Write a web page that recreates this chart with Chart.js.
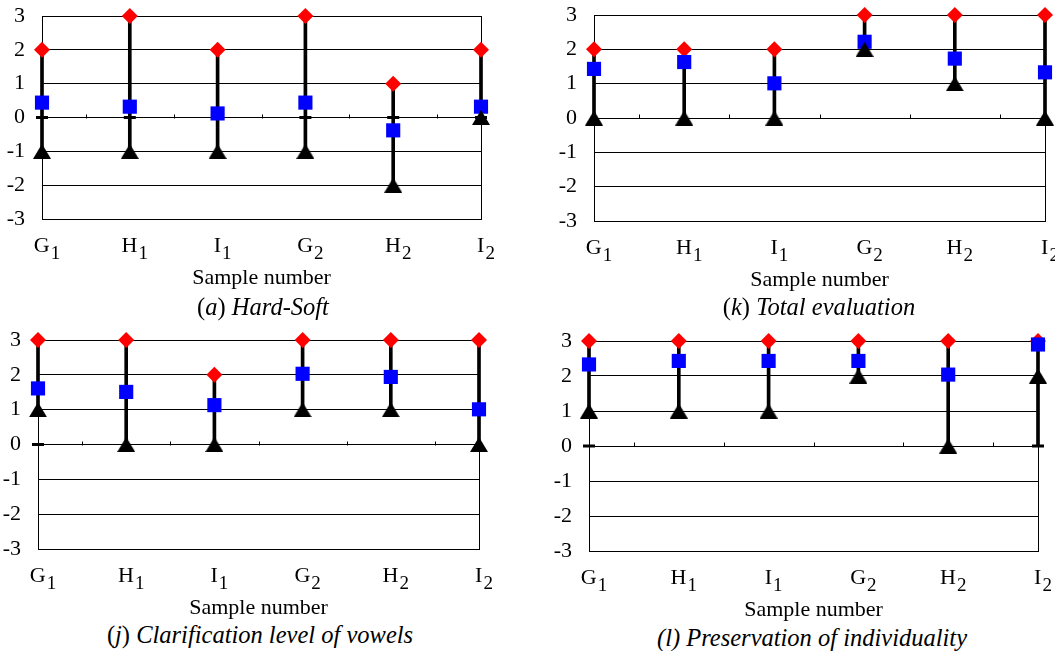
<!DOCTYPE html>
<html>
<head>
<meta charset="utf-8">
<script src="https://cdn.jsdelivr.net/npm/chart.js@4.4.0/dist/chart.umd.min.js"></script>
<style>
  body { margin: 0; background: #fff; width: 1055px; height: 651px; position: relative; overflow: hidden;
         font-family: "Liberation Serif", "Times New Roman", serif; color: #000; }
  canvas { position: absolute; }
  .cap { position: absolute; width: 500px; text-align: center; font-size: 24.5px; line-height: 28px; white-space: nowrap; }
</style>
</head>
<body>
<canvas id="cA" width="527" height="291" style="left:0px;top:0px"></canvas>
<canvas id="cK" width="525" height="293" style="left:530px;top:0px"></canvas>
<canvas id="cJ" width="527" height="301" style="left:0px;top:320px"></canvas>
<canvas id="cL" width="525" height="303" style="left:530px;top:320px"></canvas>

<div class="cap" style="left:13px;top:293px">(<i>a</i>) <i>Hard-Soft</i></div>
<div class="cap" style="left:569px;top:293px">(<i>k</i>) <i>Total evaluation</i></div>
<div class="cap" style="left:10px;top:621px">(<i>j</i>) <i>Clarification level of vowels</i></div>
<div class="cap" style="left:562px;top:624px"><i>(l) Preservation of individuality</i></div>

<script>
// categories: letter + subscript digit
var samples = ['G1', 'H1', 'I1', 'G2', 'H2', 'I2'];
var xTitle = 'Sample number';

// (a) Hard-Soft
var hardMax  = [2, 3, 2, 3, 1, 2];
var hardMean = [0.44, 0.32, 0.12, 0.44, -0.38, 0.32];
var hardMin  = [-1, -1, -1, -1, -2, 0];
var hardZero = [0, 0, 0, 0, 0, 0];

// (k) Total evaluation
var totalMax  = [2, 2, 2, 3, 3, 3];
var totalMean = [1.43, 1.63, 1.01, 2.22, 1.73, 1.33];
var totalMin  = [0, 0, 0, 2, 1, 0];

// (j) Clarification level of vowels
var vowelMax  = [3, 3, 2, 3, 3, 3];
var vowelMean = [1.61, 1.51, 1.13, 2.03, 1.94, 1.01];
var vowelMin  = [1, 0, 0, 1, 1, 0];
var vowelZero = [0, null, null, null, null, null];

// (l) Preservation of individuality
var indivMax  = [3, 3, 3, 3, 3, 3];
var indivMean = [2.33, 2.43, 2.43, 2.43, 2.04, 2.9];
var indivMin  = [1, 1, 1, 2, 0, 2];
var indivLow  = [1, 1, 1, 2, 0, 0];   // bottom of the stem
var indivZero = [0, null, null, null, null, 0];

var FONT = '"Liberation Serif", "Times New Roman", serif';

// centred black triangle used as the point style for minimum values
function triangleMarker() {
    let c = document.createElement('canvas');
    c.width = 18;
    c.height = 15;
    let g = c.getContext('2d');
    g.fillStyle = '#000';
    g.beginPath();
    g.moveTo(9, 0);
    g.lineTo(18, 15);
    g.lineTo(0, 15);
    g.closePath();
    g.fill();
    return c;
}
var triMark = triangleMarker();

// frame, small ticks on the zero line, and subscripted sample labels
var sampleAxis = {
    id: 'sampleAxis',
    beforeDatasetsDraw(chart) {
        let ctx = chart.ctx, a = chart.chartArea;
        let x = chart.scales.x, y = chart.scales.y;
        ctx.save();
        ctx.strokeStyle = '#000';
        ctx.lineWidth = 1;
        ctx.strokeRect(Math.round(a.left) + 0.5, Math.round(a.top) + 0.5,
                       Math.round(a.right - a.left), Math.round(a.bottom - a.top));
        let y0 = Math.round(y.getPixelForValue(0)) + 0.5;
        for (let i = 0; i < samples.length - 1; i++) {
            let xm = Math.round((x.getPixelForValue(i) + x.getPixelForValue(i + 1)) / 2) + 0.5;
            ctx.beginPath();
            ctx.moveTo(xm, y0 - 4);
            ctx.lineTo(xm, y0);
            ctx.stroke();
        }
        ctx.restore();
    },
    afterDraw(chart) {
        let ctx = chart.ctx, a = chart.chartArea, x = chart.scales.x;
        ctx.save();
        ctx.fillStyle = '#000';
        ctx.textBaseline = 'alphabetic';
        ctx.textAlign = 'left';
        samples.forEach(function(lab, i) {
            let base = lab.slice(0, -1), sub = lab.slice(-1);
            ctx.font = '22px ' + FONT;
            let wb = ctx.measureText(base).width;
            ctx.font = '19px ' + FONT;
            let ws = ctx.measureText(sub).width;
            let left = x.getPixelForValue(i) + 5 - (wb + ws + 1) / 2;
            let by = a.bottom + 33;
            ctx.font = '22px ' + FONT;
            ctx.fillText(base, left, by);
            ctx.font = '19px ' + FONT;
            ctx.fillText(sub, left + wb + 1, by + 7);
        });
        ctx.restore();
    }
};

function createPanel(id, geo, maxV, meanV, minV, lowV, zeroV) {
    let datasets = [
        { type: 'line', label: 'Min', data: minV, showLine: false, clip: false, pointStyle: triMark,
          pointRadius: 9, pointBorderWidth: 0 },
        { type: 'line', label: 'Mean', data: meanV, showLine: false, clip: false, pointStyle: 'rect',
          pointRadius: 10, pointBackgroundColor: '#0000ff', pointBorderWidth: 0 },
        { type: 'line', label: 'Max', data: maxV, showLine: false, clip: false, pointStyle: 'rectRot',
          pointRadius: 8, pointBackgroundColor: '#ff0000', pointBorderWidth: 0 }
    ];
    if (zeroV) {
        datasets.push({ type: 'line', label: 'Zero', data: zeroV, showLine: false, clip: false,
            pointStyle: 'line', pointRadius: 6, pointBorderColor: '#000', pointBorderWidth: 3 });
    }
    datasets.push({ type: 'bar', label: 'Range', data: lowV.map(function(v, i) { return [v, maxV[i]]; }),
        backgroundColor: '#000', borderWidth: 0, barThickness: 3, clip: false });

    return new Chart(document.getElementById(id), {
        type: 'bar',
        data: { labels: samples, datasets: datasets },
        options: {
            responsive: false,
            animation: false,
            events: [],
            layout: { padding: { top: geo.top, right: geo.right, left: 0, bottom: 0 } },
            plugins: { legend: { display: false }, tooltip: { enabled: false } },
            scales: {
                x: {
                    type: 'category',
                    offset: false,
                    grid: { display: false },
                    border: { display: false },
                    ticks: { display: false },
                    title: { display: true, text: xTitle, color: '#000', padding: 0,
                             font: { family: FONT, size: 22 } },
                    afterFit: function(s) {
                        s.height = 72;
                        s.paddingLeft = 0; s.paddingRight = 0;
                    }
                },
                y: {
                    min: -3,
                    max: 3,
                    ticks: { stepSize: 1, color: '#000', padding: 17, font: { family: FONT, size: 22 } },
                    grid: { color: '#000', lineWidth: 1, drawTicks: false },
                    border: { display: true, color: '#000', width: 1 },
                    afterFit: function(s) {
                        s.width = geo.yw;
                        s.paddingTop = 0; s.paddingBottom = 0;
                    }
                }
            }
        },
        plugins: [sampleAxis]
    });
}

createPanel('cA', { top: 16, right: 46, yw: 42 }, hardMax, hardMean, hardMin, hardMin, hardZero);
createPanel('cK', { top: 15, right: 10, yw: 64 }, totalMax, totalMean, totalMin, totalMin, null);
createPanel('cJ', { top: 20, right: 48, yw: 38 }, vowelMax, vowelMean, vowelMin, vowelMin, vowelZero);
createPanel('cL', { top: 21, right: 17, yw: 59 }, indivMax, indivMean, indivMin, indivLow, indivZero);
</script>
</body>
</html>
